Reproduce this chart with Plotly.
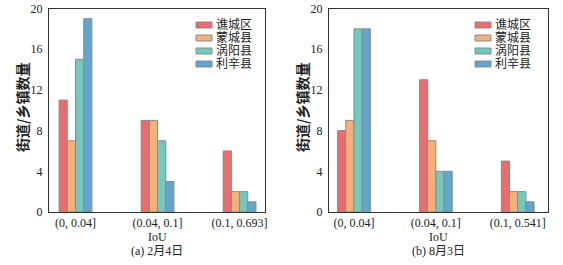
import plotly.graph_objects as go

categories_a = ["(0, 0.04]", "(0.04, 0.1]", "(0.1, 0.693]"]
categories_b = ["(0, 0.04]", "(0.04, 0.1]", "(0.1, 0.541]"]
series_names = ["谯城区", "蒙城县", "涡阳县", "利辛县"]
values_a = {
    "谯城区": [11, 9, 6],
    "蒙城县": [7, 9, 2],
    "涡阳县": [15, 7, 2],
    "利辛县": [19, 3, 1],
}
values_b = {
    "谯城区": [8, 13, 5],
    "蒙城县": [9, 7, 2],
    "涡阳县": [18, 4, 2],
    "利辛县": [18, 4, 1],
}
y_ticks = [0, 4, 8, 12, 16, 20]
colors = ["#ef6b6b", "#f8b072", "#6fcbbf", "#62a5d1"]
EDGE = "#8a8a8a"

FONT = "Liberation Serif, Times New Roman, Noto Sans CJK SC, serif"
CJK = "Noto Sans CJK SC, Liberation Serif, serif"

W, H = 563, 265

fig = go.Figure()
for i, name in enumerate(series_names):
    fig.add_trace(go.Bar(
        x=list(range(3)), y=values_a[name], name=name,
        marker=dict(color=colors[i], line=dict(color=EDGE, width=1)),
        xaxis="x", yaxis="y", showlegend=False, offsetgroup=str(i),
    ))
for i, name in enumerate(series_names):
    fig.add_trace(go.Bar(
        x=list(range(3)), y=values_b[name], name=name,
        marker=dict(color=colors[i], line=dict(color=EDGE, width=1)),
        xaxis="x2", yaxis="y2", showlegend=False, offsetgroup=str(i),
    ))

axis_common = dict(showline=True, mirror=True, linecolor="#333333", linewidth=1,
                   showgrid=False, zeroline=False, ticks="", automargin=False,
                   tickfont=dict(family=FONT, size=12, color="#222"))

fig.update_layout(
    width=W, height=H,
    margin=dict(l=0, r=0, t=0, b=0),
    plot_bgcolor="white", paper_bgcolor="white",
    barmode="group", bargap=0.6, bargroupgap=0,
    font=dict(family=FONT, size=12, color="#222"),
    showlegend=False,
    xaxis=dict(domain=[49/W, 265/W], range=[-0.323, 2.31],
               tickvals=[0, 1, 2], ticktext=categories_a, anchor="y", **axis_common),
    yaxis=dict(domain=[53/H, 256.5/H], range=[0, 20], tickvals=y_ticks,
               anchor="x", ticklabelstandoff=3, **axis_common),
    xaxis2=dict(domain=[329/W, 548/W], range=[-0.305, 2.37],
                tickvals=[0, 1, 2], ticktext=categories_b, anchor="y2", **axis_common),
    yaxis2=dict(domain=[53/H, 256.5/H], range=[0, 20], tickvals=y_ticks,
                anchor="x2", ticklabelstandoff=3, **axis_common),
)

# custom compact legends (one per panel)
for lx in [196, 475]:
    for i, name in enumerate(series_names):
        cy = 25 + 13 * i
        fig.add_shape(type="rect", xref="paper", yref="paper",
                      x0=lx / W, x1=(lx + 16) / W,
                      y0=(H - cy - 3) / H, y1=(H - cy + 3) / H,
                      fillcolor=colors[i], line=dict(color=EDGE, width=1))
        fig.add_annotation(xref="paper", yref="paper", x=(lx + 19) / W, y=(H - cy) / H,
                           text=name, showarrow=False, xanchor="left", yanchor="middle",
                           borderpad=0,
                           font=dict(family=FONT, size=12, color="#222"))

ann = [
    dict(x=157/W, y=(H-237)/H, text="IoU"),
    dict(x=157/W, y=(H-251)/H, text="(a) 2月4日"),
    dict(x=438/W, y=(H-237)/H, text="IoU"),
    dict(x=438/W, y=(H-251)/H, text="(b) 8月3日"),
]
for a in ann:
    fig.add_annotation(xref="paper", yref="paper", x=a["x"], y=a["y"], text=a["text"],
                       showarrow=False, xanchor="center", yanchor="middle",
                       borderpad=0,
                       font=dict(family=FONT, size=12, color="#222"))
for xpos in [22/W, 302/W]:
    fig.add_annotation(xref="paper", yref="paper", x=xpos, y=(H-108)/H,
                       text="<b>街道/乡镇数量</b>", textangle=-90, showarrow=False,
                       xanchor="center", yanchor="middle",
                       font=dict(family=CJK, size=14, color="#222"))

fig.write_html("out.html", config={"displayModeBar": False},
               post_script="document.body.style.margin='0';")
